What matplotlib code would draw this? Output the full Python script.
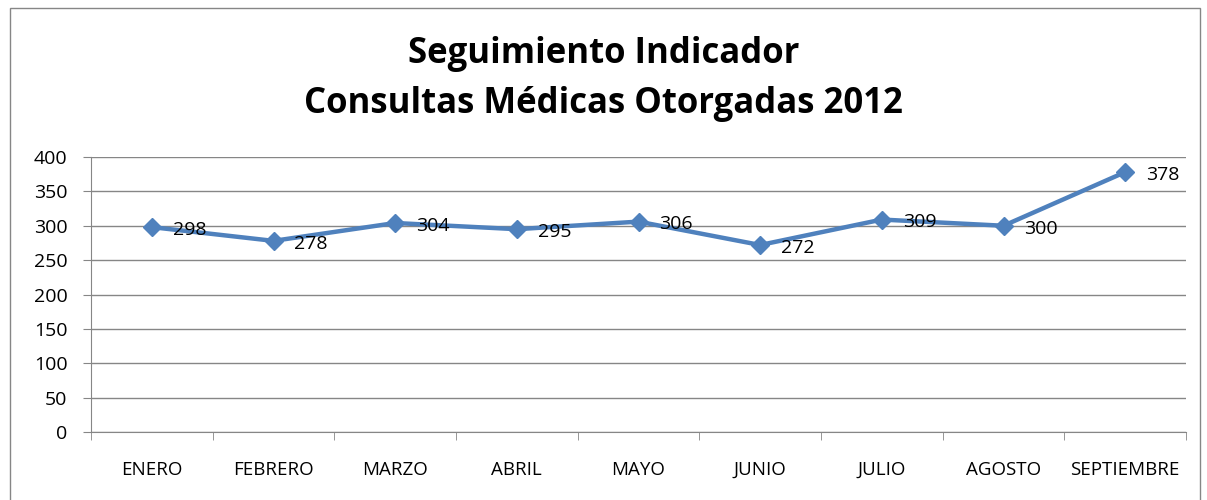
import matplotlib
matplotlib.use("Agg")
import matplotlib.pyplot as plt
from matplotlib.patches import Rectangle
from matplotlib import font_manager as fm

months = ["ENERO", "FEBRERO", "MARZO", "ABRIL", "MAYO", "JUNIO", "JULIO", "AGOSTO", "SEPTIEMBRE"]
values = [298, 278, 304, 295, 306, 272, 309, 300, 378]
yticks = [0, 50, 100, 150, 200, 250, 300, 350, 400]
title = "Seguimiento Indicador\nConsultas Médicas Otorgadas 2012"

names = {f.name for f in fm.fontManager.ttflist}
narrow = "Liberation Sans Narrow" if "Liberation Sans Narrow" in names else "Open Sans"
body = ["Open Sans", "DejaVu Sans"]

fig = plt.figure(figsize=(12.07, 5.0), dpi=100)
fig.patches.append(Rectangle((10/1207, -0.1), 1190/1207, 1.1 - 8/500, transform=fig.transFigure,
                             fill=False, edgecolor="#868686", linewidth=1.0))
ax = fig.add_axes([91/1207, (500-432)/500, (1186-91)/1207, (432-157)/500])

x = list(range(len(months)))
ax.plot(x, values, color="#4F81BD", linewidth=3.2, marker="D", markersize=9, zorder=3)
for xi, v in zip(x, values):
    ax.annotate(str(v), (xi, v), xytext=(15, -2), textcoords="offset points",
                ha="left", va="center", fontsize=14, family=body, color="black")

ax.set_xlim(-0.5, len(months) - 0.5)
ax.set_ylim(0, 400)
ax.set_yticks(yticks)
ax.set_yticklabels([str(t) for t in yticks], fontsize=14, family=body)
ax.set_xticks(x)
ax.set_xticklabels(months, fontsize=13.5, family=body)
ax.set_xticks([i - 0.5 for i in range(len(months) + 1)], minor=True)
ax.tick_params(axis="x", which="major", length=0, pad=21)
ax.tick_params(axis="x", which="minor", length=6, color="#868686", direction="out")
ax.tick_params(axis="y", length=6, color="#868686", direction="out", pad=11)
ax.yaxis.grid(True, color="#868686", linewidth=1.0)
ax.set_axisbelow(True)
for s in ["top", "right"]:
    ax.spines[s].set_visible(False)
for s in ["left", "bottom"]:
    ax.spines[s].set_color("#868686")

fig.text(0.5, 0.842, title, ha="center", va="center", fontsize=25, fontweight="bold",
         family=[narrow, "DejaVu Sans"], linespacing=1.5)

fig.savefig("out.png", dpi=100)
